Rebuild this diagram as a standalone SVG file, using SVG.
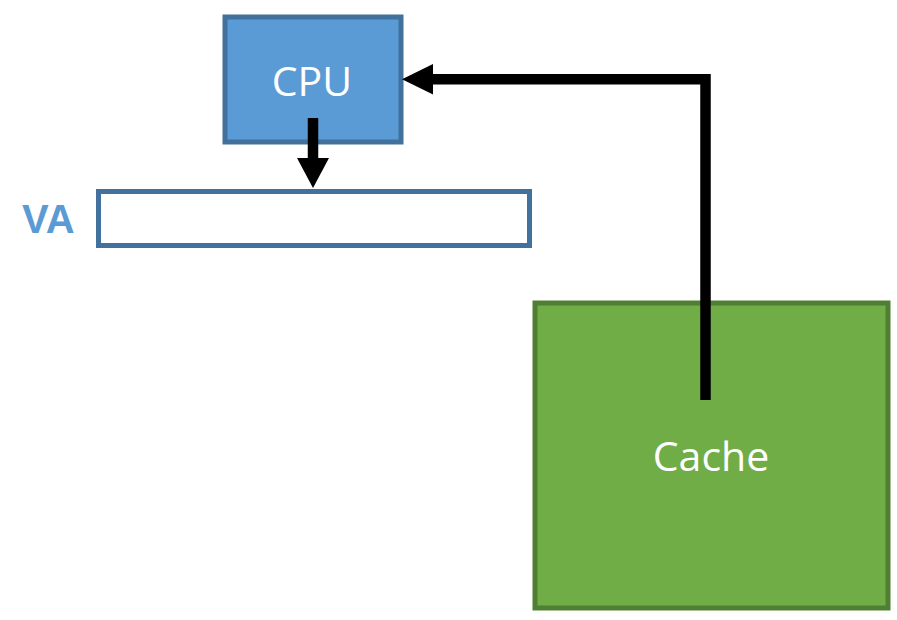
<svg xmlns="http://www.w3.org/2000/svg" width="897" height="620" viewBox="0 0 897 620">
<style>
.lbl{font-family:"Open Sans","Noto Sans","Liberation Sans",sans-serif;font-size:41px;fill:#ffffff;text-anchor:middle}
.conn{fill:none;stroke:#000000;stroke-width:10.5;stroke-linejoin:miter}
.head{fill:#000000}
</style>
<rect width="897" height="620" fill="#ffffff"/>
<g id="cpu">
<rect x="225" y="17" width="176" height="125" fill="#5B9BD5" stroke="#41719C" stroke-width="5"/>
<text class="lbl" x="312" y="96">CPU</text>
</g>
<g id="va">
<rect x="98.5" y="191.5" width="431" height="54" fill="#ffffff" stroke="#41719C" stroke-width="5"/>
<text x="22" y="233" font-family="Liberation Sans, Arial, sans-serif" font-size="40" font-weight="bold" fill="#5B9BD5">VA</text>
</g>
<g id="cache">
<rect x="535" y="303" width="353" height="305" fill="#70AD47" stroke="#507E32" stroke-width="5"/>
<text class="lbl" x="711" y="471">Cache</text>
</g>
<g id="connectors">
<path class="conn" d="M313,118 V160"/>
<polygon class="head" points="297,158 329,158 313,188"/>
<path class="conn" d="M705.5,400 V79.3 H430"/>
<polygon class="head" points="402,79.3 433,64 433,94.6"/>
</g>
</svg>
